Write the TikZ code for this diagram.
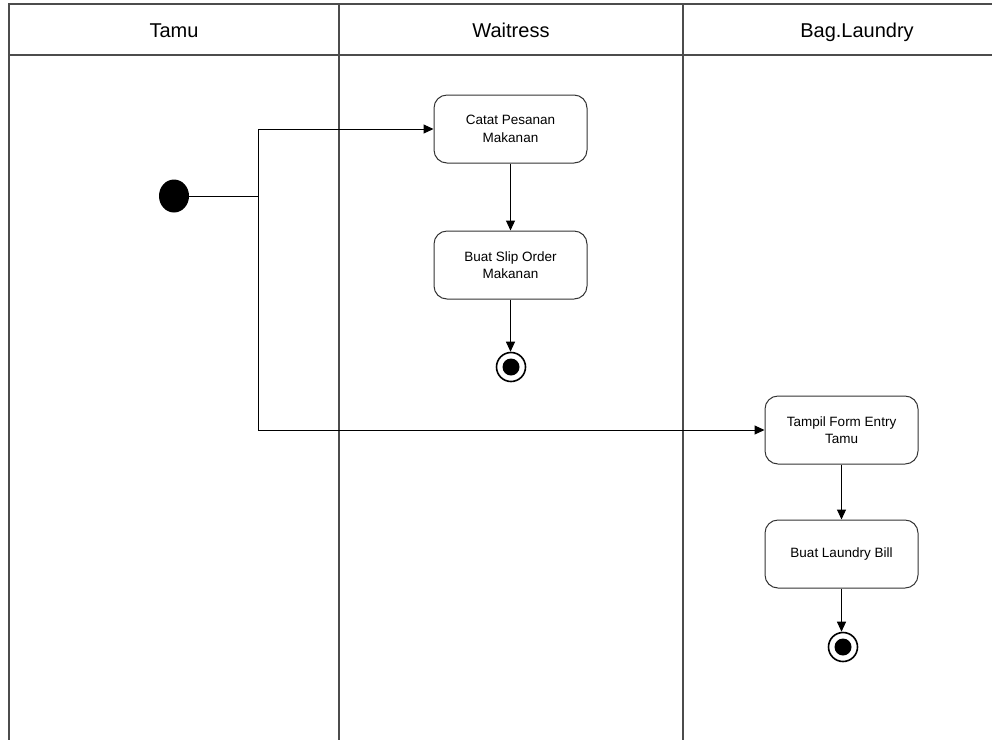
\documentclass[tikz,border=0pt]{standalone}
\usepackage{fontspec}
\setmainfont{Liberation Sans}
\usetikzlibrary{arrows.meta, shapes.geometric}

\tikzset{
  lane/.style={draw=black!70, line width=1.3pt},
  action/.style={draw=black!80, line width=1pt, rounded corners=13pt,
    minimum width=153pt, minimum height=68pt, align=center,
    font=\fontsize{13.5}{17.5}\selectfont, inner sep=2pt},
  lanetitle/.style={font=\fontsize{20}{24}\selectfont, anchor=base},
  flow/.style={draw=black, line width=1pt, -{Triangle[length=10pt,width=9pt]}},
  plain/.style={draw=black, line width=1pt},
  initial/.style={draw=none, fill=black, ellipse, minimum width=30pt, minimum height=33pt, inner sep=0pt},
  final/.style={draw=black, line width=1.6pt, circle, minimum size=29pt, inner sep=0pt,
    path picture={\fill[black] (path picture bounding box.center) circle (8.5pt);}},
}

\begin{document}
\begin{tikzpicture}[x=1pt, y=-1pt]
\useasboundingbox (0,0) rectangle (992,740);

% swimlane frame
\draw[lane] (992,4) -- (9,4) -- (9,740);
\draw[lane] (9,55) -- (992,55);
\draw[lane] (339,4) -- (339,740);
\draw[lane] (683,4) -- (683,740);

% lane titles
\node[lanetitle] (t1) at (174,37) {Tamu};
\node[lanetitle] (t2) at (511,37) {Waitress};
\node[lanetitle] (t3) at (857,37) {Bag.Laundry};

% states
\node[initial] (start) at (174,196) {};
\node[action] (n1) at (510.5,129) {Catat Pesanan\\Makanan};
\node[action] (n2) at (510.5,265) {Buat Slip Order\\Makanan};
\node[final] (e1) at (511,367) {};
\node[action] (n3) at (841.5,430) {Tampil Form Entry\\Tamu};
\node[action] (n4) at (841.5,554) {Buat Laundry Bill};
\node[final] (e2) at (843,647) {};

% fork point of the start transition
\coordinate (fork) at (258,196);

% transitions
\draw[plain] (start.east) -- (fork);
\draw[flow] (fork) |- (n1.west);
\draw[flow] (fork) |- (n3.west);
\draw[flow] (n1) -- (n2);
\draw[flow] (n2.south) -- (n2.south |- e1.north);
\draw[flow] (n3) -- (n4);
\draw[flow] (n4.south) -- (n4.south |- e2.north);
\end{tikzpicture}
\end{document}
